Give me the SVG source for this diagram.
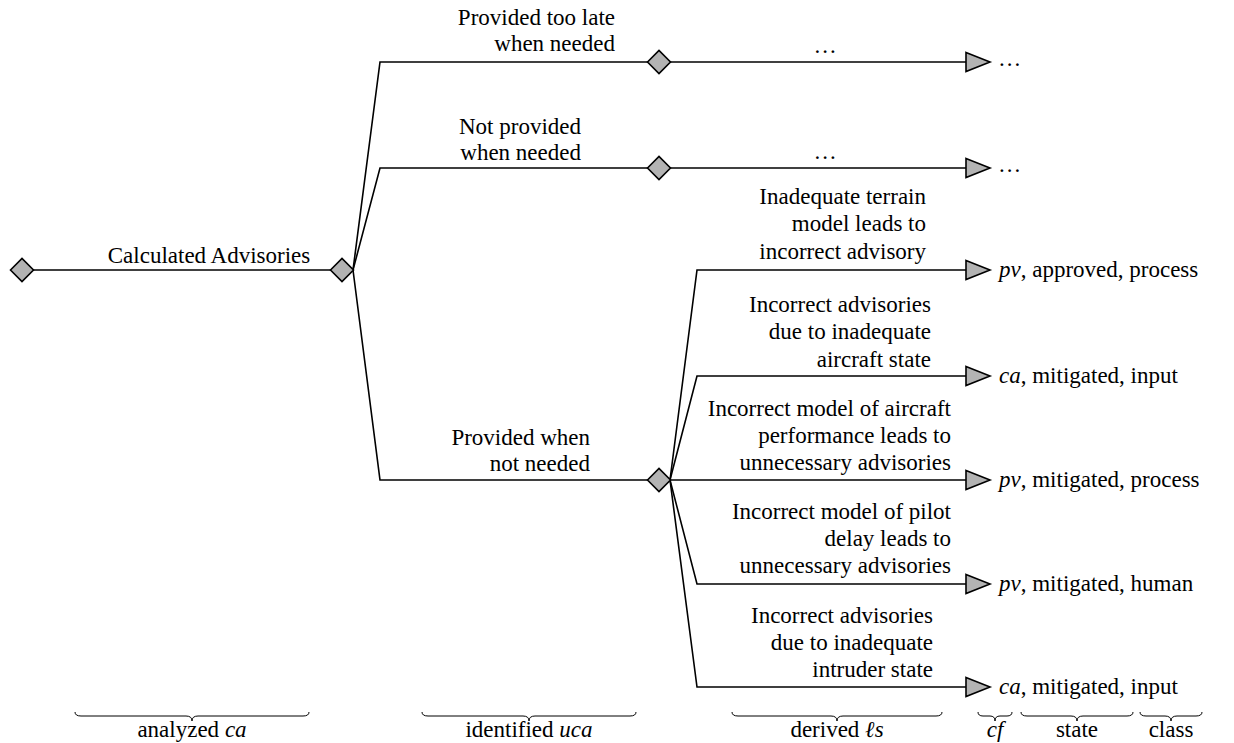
<svg xmlns="http://www.w3.org/2000/svg" width="1234" height="743" viewBox="0 0 1234 743" font-family="Liberation Serif, Noto Serif, DejaVu Serif, FreeSerif, Nimbus Roman, Times, serif">
<style>
text{font-size:23px;fill:#000}
.r{text-anchor:end}
.m{text-anchor:middle}
.i{font-style:italic}
.ln{fill:none;stroke:#000;stroke-width:1.6}
.br{fill:none;stroke:#000;stroke-width:1}
.dm{fill:#b3b3b3;stroke:#000;stroke-width:1.6}
</style>
<defs>
<path id="dia" d="M-11.5 0 L0 -11.5 L11.5 0 L0 11.5 Z"/>
<path id="tri" d="M0 -9.5 L24 0 L0 9.5 Z"/>
</defs>
<rect width="1234" height="743" fill="#fff"/>
<g id="connectors">
<path class="ln" d="M22 270 H342"/>
<path class="ln" d="M353 270 L380 62 H648"/>
<path class="ln" d="M353 270 L380 168 H648"/>
<path class="ln" d="M353 270 L380 480 H648"/>
<path class="ln" d="M670 62 H966"/>
<path class="ln" d="M670 168 H966"/>
<path class="ln" d="M670 480 L697 270 H966"/>
<path class="ln" d="M670 480 L697 376 H966"/>
<path class="ln" d="M670 480 H966"/>
<path class="ln" d="M670 480 L697 584 H966"/>
<path class="ln" d="M670 480 L697 687 H966"/>
</g>
<g id="n_root"><use href="#dia" class="dm" x="22" y="270"/></g>
<g id="n_ca"><use href="#dia" class="dm" x="342" y="270"/>
<text class="m" x="209" y="263">Calculated Advisories</text></g>
<g id="n_uca1"><use href="#dia" class="dm" x="659" y="62"/>
<text class="r" x="615" y="25">Provided too late</text><text class="r" x="615" y="51">when needed</text></g>
<g id="n_uca2"><use href="#dia" class="dm" x="659" y="168"/>
<text class="r" x="581" y="134">Not provided</text><text class="r" x="581" y="160">when needed</text></g>
<g id="n_uca3"><use href="#dia" class="dm" x="659" y="480"/>
<text class="r" x="590" y="445">Provided when</text><text class="r" x="590" y="471">not needed</text></g>
<g id="n_ls1"><use href="#tri" class="dm" x="966" y="62"/>
<text class="m" x="826" y="53" letter-spacing="2">...</text><text x="999" y="66" letter-spacing="2">...</text></g>
<g id="n_ls2"><use href="#tri" class="dm" x="966" y="168"/>
<text class="m" x="826" y="159" letter-spacing="2">...</text><text x="999" y="172" letter-spacing="2">...</text></g>
<g id="n_ls3"><use href="#tri" class="dm" x="966" y="270"/>
<text class="r" x="926" y="204">Inadequate terrain</text><text class="r" x="926" y="231">model leads to</text><text class="r" x="926" y="259">incorrect advisory</text>
<text x="999" y="277"><tspan class="i">pv</tspan>, approved, process</text></g>
<g id="n_ls4"><use href="#tri" class="dm" x="966" y="376"/>
<text class="r" x="931" y="312">Incorrect advisories</text><text class="r" x="931" y="339">due to inadequate</text><text class="r" x="931" y="367">aircraft state</text>
<text x="999" y="383"><tspan class="i">ca</tspan>, mitigated, input</text></g>
<g id="n_ls5"><use href="#tri" class="dm" x="966" y="480"/>
<text class="r" x="951" y="416">Incorrect model of aircraft</text><text class="r" x="951" y="443">performance leads to</text><text class="r" x="951" y="470">unnecessary advisories</text>
<text x="999" y="487"><tspan class="i">pv</tspan>, mitigated, process</text></g>
<g id="n_ls6"><use href="#tri" class="dm" x="966" y="584"/>
<text class="r" x="951" y="519">Incorrect model of pilot</text><text class="r" x="951" y="546">delay leads to</text><text class="r" x="951" y="573">unnecessary advisories</text>
<text x="999" y="591"><tspan class="i">pv</tspan>, mitigated, human</text></g>
<g id="n_ls7"><use href="#tri" class="dm" x="966" y="687"/>
<text class="r" x="933" y="623">Incorrect advisories</text><text class="r" x="933" y="650">due to inadequate</text><text class="r" x="933" y="677">intruder state</text>
<text x="999" y="694"><tspan class="i">ca</tspan>, mitigated, input</text></g>
<g id="legend">
<path class="br" d="M75 712 Q75 716 81 716 H186 Q192 716 192 721 Q192 716 198 716 H303 Q309 716 309 712"/>
<text class="m" x="192" y="737">analyzed <tspan class="i">ca</tspan></text>
<path class="br" d="M422 712 Q422 716 428 716 H523 Q529 716 529 721 Q529 716 535 716 H630 Q636 716 636 712"/>
<text class="m" x="529" y="737">identified <tspan class="i">uca</tspan></text>
<path class="br" d="M732 712 Q732 716 738 716 H831 Q837 716 837 721 Q837 716 843 716 H936 Q942 716 942 712"/>
<text class="m" x="837" y="737">derived <tspan class="i">ℓs</tspan></text>
<path class="br" d="M978 712 Q978 716 983 716 H990 Q995 716 995 721 Q995 716 1000 716 H1007 Q1012 716 1012 712"/>
<text class="m i" x="995" y="737">cf</text>
<path class="br" d="M1021 712 Q1021 716 1027 716 H1071 Q1077 716 1077 721 Q1077 716 1083 716 H1127 Q1133 716 1133 712"/>
<text class="m" x="1077" y="737">state</text>
<path class="br" d="M1140 712 Q1140 716 1146 716 H1165 Q1171 716 1171 721 Q1171 716 1177 716 H1196 Q1202 716 1202 712"/>
<text class="m" x="1171" y="737">class</text>
</g>
</svg>
